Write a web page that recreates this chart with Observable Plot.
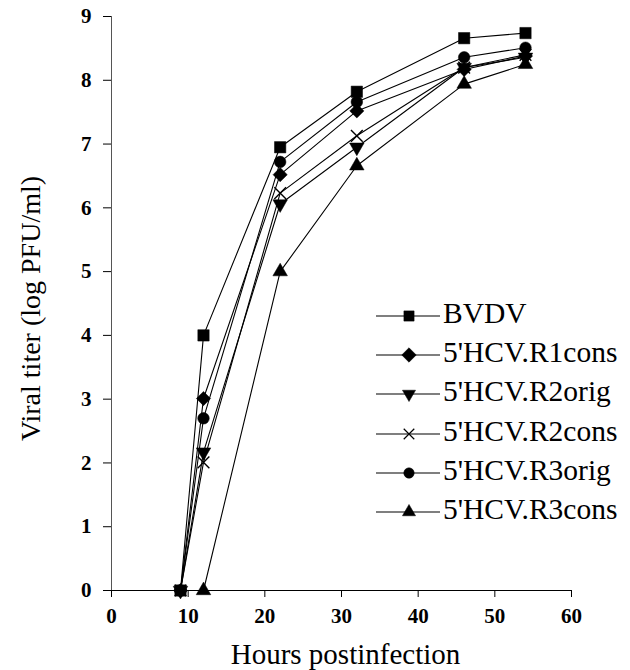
<!DOCTYPE html>
<html>
<head>
<meta charset="utf-8">
<script src="https://cdn.jsdelivr.net/npm/d3@7"></script>
<script src="https://cdn.jsdelivr.net/npm/@observablehq/plot@0.6"></script>
<style>
  html, body { margin: 0; padding: 0; background: #fff; }
  #wrap { position: relative; width: 630px; height: 670px; }
  #wrap svg text { font-family: "Liberation Serif", "Times New Roman", serif !important; }
  #legend { position: absolute; left: 376px; top: 296px; font-family: "Liberation Serif", serif; font-size: 29.5px; color: #000; }
  .row { height: 39.3px; display: flex; align-items: center; }
  .row svg { display: block; }
  .row span { margin-left: 3px; line-height: 1; white-space: nowrap; position: relative; top: -2px; }
</style>
</head>
<body>
<div id="wrap"><div id="legend"></div></div>
<script>
const hours = [9, 12, 22, 32, 46, 54];
const seriesNames = ["BVDV", "5'HCV.R1cons", "5'HCV.R2orig", "5'HCV.R2cons", "5'HCV.R3orig", "5'HCV.R3cons"];
const bvdv     = [0, 4.00, 6.95, 7.82, 8.66, 8.74];
const r1cons   = [0, 3.01, 6.52, 7.52, 8.17, 8.38];
const r2orig   = [0, 2.17, 6.06, 6.95, 8.20, 8.36];
const r2cons   = [0, 2.01, 6.23, 7.13, 8.20, 8.40];
const r3orig   = [0, 2.70, 6.72, 7.66, 8.36, 8.51];
const r3cons   = [0, 0, 5.00, 6.66, 7.94, 8.25];
const xTicks = [0, 10, 20, 30, 40, 50, 60];
const yTicks = [0, 1, 2, 3, 4, 5, 6, 7, 8, 9];

const valueLists = [bvdv, r1cons, r2orig, r2cons, r3orig, r3cons];
// marker styles per series (order matches seriesNames)
const styles = [
  {symbol: "square", rotate: 0, filled: true, r: 6.4},
  {symbol: "diamond2", rotate: 0, filled: true, r: 6.4},
  {symbol: "triangle", rotate: 180, filled: true, r: 5.4},
  {symbol: "times", rotate: 0, filled: false, r: 5.4},
  {symbol: "circle", rotate: 0, filled: true, r: 5.8},
  {symbol: "triangle", rotate: 0, filled: true, r: 5.4}
];
// R3cons has no marker at 9 h (its line joins from the 9 h origin)
const hideMarker = (i, j) => i === 5 && j === 0;

const data = [];
seriesNames.forEach((name, i) => {
  valueLists[i].forEach((v, j) => {
    data.push({series: name, idx: i, hour: hours[j], titer: v, hide: hideMarker(i, j)});
  });
});

const lineMarks = seriesNames.map((name, i) =>
  Plot.line(data.filter(d => d.idx === i), {x: "hour", y: "titer", stroke: "#000", strokeWidth: 1.1})
);
const dotMarks = seriesNames.map((name, i) => {
  const s = styles[i];
  return Plot.dot(data.filter(d => d.idx === i && !d.hide), {
    x: "hour", y: "titer", symbol: () => s.symbol, r: s.r, rotate: s.rotate,
    fill: s.filled ? "#000" : "none", stroke: "#000", strokeWidth: s.filled ? 0.5 : 1.4
  });
});

const chart = Plot.plot({
  width: 630, height: 670,
  marginLeft: 111, marginRight: 59, marginTop: 16, marginBottom: 80,
  style: {fontFamily: "'Liberation Serif', serif", background: "#fff", color: "#000", overflow: "visible"},
  x: {domain: [0, 60]},
  y: {domain: [0, 9]},
  symbol: {type: "identity"},
  marks: [
    Plot.axisX({ticks: xTicks, tickSize: 7, tickPadding: 11, fontSize: 21, fontWeight: "bold", label: null, tickFormat: d => d}),
    Plot.axisY({ticks: yTicks, tickSize: 8, tickPadding: 12, fontSize: 21, fontWeight: "bold", label: null, tickFormat: d => d}),
    Plot.ruleX([0], {stroke: "#555", strokeWidth: 1}),
    ...lineMarks,
    Plot.ruleY([0], {stroke: "#000", strokeWidth: 1.2}),
    ...dotMarks,
    Plot.text(["Hours postinfection"], {frameAnchor: "bottom", dx: 4, dy: 73, fontSize: 29, fill: "#000"}),
    Plot.text(["Viral titer (log PFU/ml)"], {frameAnchor: "left", dx: -80, dy: 5, rotate: -90, textAnchor: "middle", fontSize: 28, fill: "#000"})
  ]
});
document.getElementById("wrap").prepend(chart);

// legend
const leg = d3.select("#legend");
seriesNames.forEach((name, i) => {
  const s = styles[i];
  const row = leg.append("div").attr("class", "row");
  const svg = row.append("svg").attr("width", 64).attr("height", 20);
  svg.append("line").attr("x1", 0).attr("x2", 64).attr("y1", 10).attr("y2", 10).attr("stroke", "#000").attr("stroke-width", 1.1);
  const symMap = {square: d3.symbolSquare, diamond2: d3.symbolSquare, triangle: d3.symbolTriangle, times: d3.symbolTimes, circle: d3.symbolCircle};
  const size = Math.PI * (s.r * 0.9) ** 2;
  const rot = s.symbol === "diamond2" ? 45 : s.rotate;
  svg.append("path")
    .attr("d", d3.symbol(symMap[s.symbol], size)())
    .attr("transform", `translate(33,10) rotate(${rot})`)
    .attr("fill", s.filled ? "#000" : "none")
    .attr("stroke", "#000").attr("stroke-width", s.filled ? 0.5 : 1.2);
  row.append("span").text(name);
});
</script>
</body>
</html>
